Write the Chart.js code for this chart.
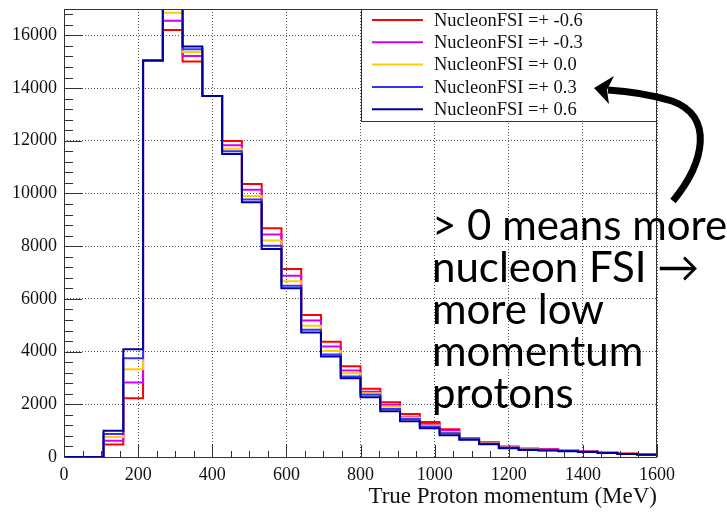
<!DOCTYPE html>
<html>
<head>
<meta charset="utf-8">
<script src="https://cdn.jsdelivr.net/npm/chart.js@4.4.0/dist/chart.umd.min.js"></script>
<style>
    html, body { margin: 0; padding: 0; background: #fff; }
    #wrap { width: 727px; height: 515px; }
</style>
</head>
<body>
<div id="wrap"><canvas id="chart"></canvas></div>
<script>
// histogram binning: 30 bins between 0 and 1600 MeV
const xLow = 0;
const xHigh = 1600;
const nBins = 30;

const labels = ["NucleonFSI =+ -0.6", "NucleonFSI =+ -0.3", "NucleonFSI =+ 0.0", "NucleonFSI =+ 0.3", "NucleonFSI =+ 0.6"];
const colors = ["#ff0000", "#cc00ff", "#ffcc00", "#3333ff", "#000099"];

const fsiMinus06 = [0, 0, 470, 2230, 15050, 16200, 15010, 13700, 11990, 10360, 8680, 7130, 5390, 4370, 3440, 2590, 2080, 1630, 1330, 1050, 720, 560, 400, 320, 290, 250, 220, 170, 130, 100];
const fsiMinus03 = [0, 0, 620, 2830, 15050, 16550, 15220, 13700, 11830, 10140, 8440, 6880, 5180, 4190, 3280, 2480, 1980, 1530, 1250, 990, 700, 540, 380, 305, 280, 240, 210, 165, 125, 95];
const fsiZero = [0, 0, 760, 3330, 15050, 16860, 15370, 13700, 11700, 9900, 8220, 6670, 4980, 4020, 3180, 2420, 1910, 1500, 1200, 950, 690, 520, 365, 295, 270, 235, 200, 160, 120, 92];
const fsiPlus03 = [0, 0, 870, 3750, 15050, 17200, 15470, 13700, 11600, 9770, 8020, 6500, 4830, 3890, 3050, 2360, 1820, 1440, 1150, 900, 670, 500, 350, 280, 260, 228, 195, 155, 115, 88];
const fsiPlus06 = [0, 0, 1000, 4090, 15050, 17500, 15580, 13700, 11500, 9670, 7890, 6400, 4720, 3810, 2990, 2270, 1740, 1360, 1090, 830, 650, 480, 330, 270, 250, 220, 190, 150, 110, 85];

const series = [fsiMinus06, fsiMinus03, fsiZero, fsiPlus03, fsiPlus06];

const yMax = 17000;
const yTicks = [0, 2000, 4000, 6000, 8000, 10000, 12000, 14000, 16000];
const xTicks = [0, 200, 400, 600, 800, 1000, 1200, 1400, 1600];
const yMinor = 400;
const xMinor = 50;

const annotationLines = ["> 0 means more", "nucleon FSI \u2192", "more low", "momentum", "protons"];

// step points: left edge of each bin, plus closing point at the upper edge
function histPoints(values) {
    const w = (xHigh - xLow) / nBins;
    const pts = values.map((v, i) => ({ x: xLow + i * w, y: v }));
    pts.push({ x: xHigh, y: values[values.length - 1] });
    return pts;
}

const serif = "'Liberation Serif', 'Times New Roman', serif";

// ROOT style frame, inward ticks, legend box and the annotation
const rootDecor = {
    id: 'rootDecor',
    afterDraw(chart) {
        const ctx = chart.ctx;
        const a = chart.chartArea;
        const xs = chart.scales.x;
        const ys = chart.scales.y;

        ctx.save();
        ctx.strokeStyle = '#333';
        ctx.lineWidth = 1;
        ctx.strokeRect(a.left + 0.5, a.top + 0.5, a.right - a.left - 1, a.bottom - a.top);

        // x ticks
        ctx.beginPath();
        for (let v = xLow; v <= xHigh; v += xMinor) {
            const px = Math.round(xs.getPixelForValue(v)) + 0.5;
            const len = xTicks.includes(v) ? 12 : 6;
            ctx.moveTo(px, a.bottom);
            ctx.lineTo(px, a.bottom - len);
        }
        // y ticks
        for (let v = 0; v <= yMax; v += yMinor) {
            const py = Math.round(ys.getPixelForValue(v)) + 0.5;
            const len = yTicks.includes(v) ? 18 : 9;
            ctx.moveTo(a.left, py);
            ctx.lineTo(a.left + len, py);
        }
        ctx.stroke();

        // legend
        const lx = 361, ly = 9, lw = 296, lh = 112;
        ctx.fillStyle = '#fff';
        ctx.fillRect(lx, ly, lw, lh);
        ctx.strokeStyle = '#333';
        ctx.strokeRect(lx + 0.5, ly + 0.5, lw - 1, lh);
        ctx.font = '18.5px ' + serif;
        ctx.textBaseline = 'middle';
        ctx.textAlign = 'left';
        chart.data.datasets.forEach((ds, i) => {
            const y = 20 + i * 22.3;
            ctx.strokeStyle = ds.borderColor;
            ctx.lineWidth = 2;
            ctx.beginPath();
            ctx.moveTo(372, y);
            ctx.lineTo(423, y);
            ctx.stroke();
            ctx.fillStyle = '#111';
            ctx.fillText(ds.label, 434, y + 1);
        });

        // curved arrow pointing at the legend
        ctx.strokeStyle = '#000';
        ctx.fillStyle = '#000';
        ctx.lineWidth = 7;
        ctx.beginPath();
        ctx.moveTo(673, 201);
        ctx.bezierCurveTo(705, 162, 714, 116, 672, 101);
        ctx.quadraticCurveTo(642, 92, 608, 90);
        ctx.stroke();
        ctx.beginPath();
        ctx.moveTo(594, 88);
        ctx.lineTo(614, 76);
        ctx.lineTo(607, 90);
        ctx.lineTo(609, 104);
        ctx.closePath();
        ctx.fill();

        // annotation text
        ctx.font = "42px Lato, 'Open Sans', sans-serif";
        ctx.textBaseline = 'alphabetic';
        annotationLines.forEach((t, i) => {
            ctx.fillText(t, 432, 240 + i * 42);
        });
        ctx.restore();
    }
};

new Chart(document.getElementById('chart'), {
    type: 'line',
    data: {
        datasets: series.map((vals, i) => ({
            label: labels[i],
            data: histPoints(vals),
            borderColor: colors[i],
            backgroundColor: colors[i],
            borderWidth: 2,
            stepped: 'before',
            pointRadius: 0,
            fill: false,
            order: series.length - i
        }))
    },
    options: {
        responsive: true,
        maintainAspectRatio: false,
        animation: false,
        layout: { padding: { top: 9, right: 70, left: 0, bottom: 0 } },
        plugins: {
            legend: { display: false },
            tooltip: { enabled: false }
        },
        scales: {
            x: {
                type: 'linear',
                min: xLow,
                max: xHigh,
                afterBuildTicks(scale) { scale.ticks = xTicks.map(v => ({ value: v })); },
                afterFit(scale) {
                    scale.height = 58;
                    scale.paddingLeft = 0;
                    scale.paddingRight = 0;
                },
                ticks: {
                    padding: 7,
                    color: '#111',
                    font: { family: serif, size: 18 },
                    maxRotation: 0,
                    autoSkip: false,
                    callback: v => String(v)
                },
                grid: { color: '#555', drawTicks: false, lineWidth: 1 },
                border: { display: false, dash: [1, 2] },
                title: {
                    display: true,
                    text: 'True Proton momentum (MeV)',
                    align: 'end',
                    color: '#111',
                    font: { family: serif, size: 23 },
                    padding: { top: 0, bottom: 4 }
                }
            },
            y: {
                min: 0,
                max: yMax,
                afterBuildTicks(scale) { scale.ticks = yTicks.map(v => ({ value: v })); },
                afterFit(scale) {
                    scale.width = 64;
                    scale.paddingTop = 0;
                    scale.paddingBottom = 0;
                },
                ticks: {
                    padding: 7,
                    color: '#111',
                    font: { family: serif, size: 18 },
                    autoSkip: false,
                    callback: v => String(v)
                },
                grid: { color: '#555', drawTicks: false, lineWidth: 1 },
                border: { display: false, dash: [1, 2] }
            }
        }
    },
    plugins: [rootDecor]
});
</script>
</body>
</html>
